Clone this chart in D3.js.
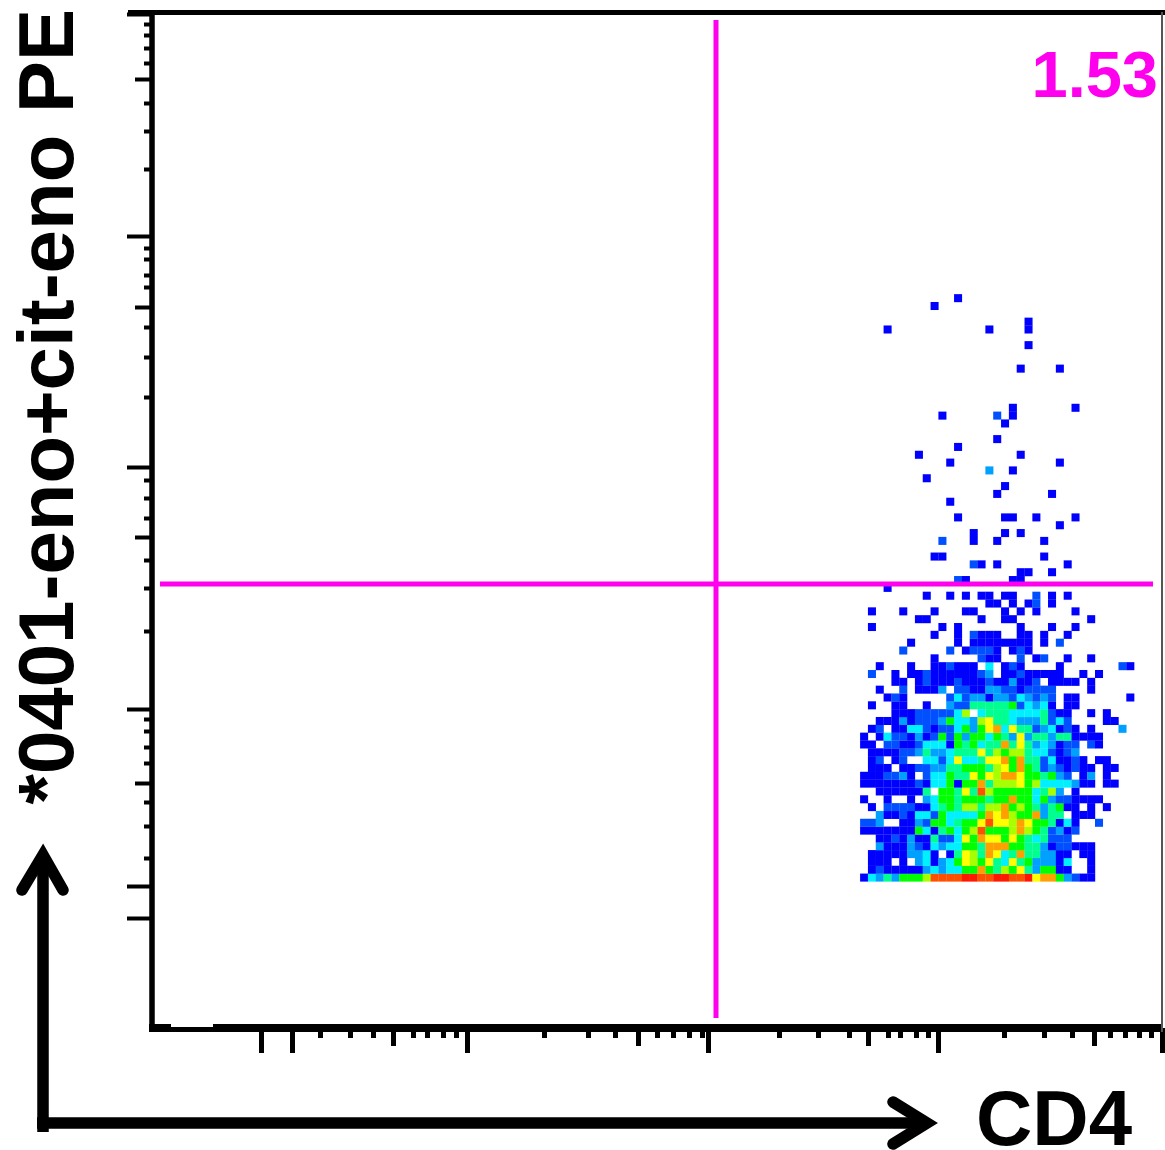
<!DOCTYPE html>
<html>
<head>
<meta charset="utf-8">
<script src="https://cdn.jsdelivr.net/npm/d3@7"></script>
<style>
  html, body { margin: 0; background: #fff; }
  svg { display: block; }
  text { font-family: "Liberation Sans", Arial, sans-serif; font-weight: bold; }
  .axis path { display: none; }
  .axis line { stroke: #000; }
</style>
</head>
<body>
<script>
// density rows, bottom row first. one char per bin: . empty, 1-9 a b = density level
var densityRows = [
  "14353 6667a aaabb aabba ab899 63211",
  ".1211 11134 34466 96576 85366 11..1",
  ".111. 1.341 34687 68548 56333 14..1",
  ".1111 13341 .1587 59845 95533 11.11",
  "..311 13214 34466 59996 65531 22111",
  "..112 13115 22486 98868 65452 22",
  "11111 11641 56467 a6667 97652 312",
  "223.. 11326 64566 8a887 98665 141.. 2",
  "..311 21442 64444 69897 66935 5.111",
  ".1.22 22114 56577 57796 76535 611.1 .1",
  "1..1. .1.34 66566 65669 66463 22111 1",
  "..111 1115. 66585 a7666 66457 3.1",
  "11111 11214 46166 95777 86744 44311 .11",
  "11122 31.24 46558 68799 86656 32.13 .1",
  ".111. 11223 35566 65786 96523 21211 .11",
  ".12.1 2..44 24844 58896 95524 1121. 11",
  ".1111 22353 34555 85767 75442 123",
  "11.22 11244 41656 45595 85343 122.2 1",
  "1.142 21312 62636 64653 83553 55111 1",
  ".12.1 14421 22463 68948 55234 121.1 ...3",
  "..111 31222 36443 78554 33352 42... .11",
  "....1 11222 2247. 45554 44452 11..1 .1",
  ".1..1 1..1. .3225 55556 24341 .11",
  "...12 1.... .2423 31332 43232 .11.. ....1",
  "..1.. 2.111 3.221 13322 12222 ....1",
  "....1 1.121 11211 12113 112.1 111.1",
  ".2..1 .1121 11111 23.11 21111 1..1. 1",
  "..1.. .1..1 12111 .4.12 1.... 1.... ...21",
  "..... ....1 ..... 211.. 2.12. .1..1",
  "..... 2.... .2.12 221.1 21",
  "..... .1... ..1.1 11111 11.1. 2",
  "..... ....1 ..1.2 111.. 11.1. .1",
  ".1... ..... 1.1.. ..... 1...1 ..1",
  "..... ..11. ..... 1..11 ..... ....1",
  ".1... 1...1 ...11 ...1. 1.1.. ..1",
  "..... ..... ..... .11.1 .12.1",
  "..... ...1. .1.1. 11.11 ..2.1 .1",
  "...1",
  "..... ..... ..21. ....1 1",
  "..... ..... ..... ..... 11..1",
  "..... ..... ....2 1.1.. ..... .1",
  "..... ....1 1.... ..... ...1",
  "",
  "..... ..... 2...1 ..1.. ...1",
  "..... ..... ....1 ...1. 1",
  "..... ..... ..... ..... ..... 1",
  "..... ..... ..1.. ...11 ..1.. ..1",
  "",
  "..... ..... .1",
  "..... ..... ..... ..1.. ....1",
  "..... ..... ..... ...1",
  "..... ...1",
  "..... ..... ..... .3..1",
  "..... ..... .1... ..... ..... 1",
  "..... ..1.. ..... ..... 1",
  "..... ..... ..1",
  "..... ..... ..... ..1",
  "",
  "..... ..... ..... ...1",
  "..... ..... 1.... ..2.1",
  "..... ..... ..... ....1 ..... ..1",
  "", "", "", "",
  "..... ..... ..... ..... 1.... 1",
  "", "",
  "..... ..... ..... ..... .1",
  "",
  "...1. ..... ..... .1... .1",
  "..... ..... ..... ..... .1",
  "",
  "..... ....1",
  "..... ..... ..1"
]

var levelColors = ["#0000ff", "#0050ff", "#00a0ff", "#00f0ff", "#00ff90", "#00ff00",
                   "#a8ff00", "#ffff00", "#ffa000", "#ff5000", "#ff1800"]

// axis positions in display channels
var xLong = [109, 140, 315, 556, 786, 1010]
var xMid = [241, 486, 716, 942]
var xMinor = [168, 198, 221, 261, 275, 291, 304, 392, 436, 463, 505, 521, 537, 550,
              627, 666, 697, 736, 748, 764, 776, 852, 892, 920, 958, 973, 987, 999]
var yLong = [1013, 791, 560, 318, 141, 109]
var yMid = [948, 720, 490, 244]
var yMinor = [1003, 992, 979, 964, 924, 896, 858, 779, 768, 752, 740, 700, 670, 630,
              547, 529, 509, 467, 439, 396, 308, 296, 280, 264, 225, 201, 169]

var xGate = 564, yGate = 443
var xLabel = "CD4"
var yLabel = "*0401-eno+cit-eno PE"
var gateLabel = "1.53"

var width = 1165, height = 1150
var binSize = 7.83, firstBinX = 708.1, firstBinY = 145.6
var magenta = "#ff00ee"

var x = d3.scaleLinear().domain([0, 1010]).range([152, 1162])
var y = d3.scaleLinear().domain([0, 1013]).range([1027, 14])
var level = d3.scaleOrdinal().domain("123456789ab".split("")).range(levelColors)

var svg = d3.select("body").append("svg")
    .attr("width", width)
    .attr("height", height)

// the source is a soft scan, blur everything a little
svg.append("defs").append("filter")
    .attr("id", "soft")
    .attr("filterUnits", "userSpaceOnUse")
    .attr("x", 0).attr("y", 0)
    .attr("width", width).attr("height", height)
    .attr("color-interpolation-filters", "sRGB")
    .append("feGaussianBlur")
    .attr("stdDeviation", 0.7)

var soft = svg.append("g").attr("filter", "url(#soft)")

// density cells
var cells = []
densityRows.forEach(function(row, r) {
    row.replace(/ /g, "").split("").forEach(function(c, i) {
        if (c != ".") cells.push({col: i, row: r, level: c})
    })
})

soft.append("g").selectAll("rect")
    .data(cells).enter()
    .append("rect")
    .attr("x", function(d) { return x(firstBinX + d.col * binSize) })
    .attr("y", function(d) { return y(firstBinY + (d.row + 1) * binSize) })
    .attr("width", x(binSize) - x(0) + 0.2)
    .attr("height", y(0) - y(binSize) + 0.2)
    .attr("fill", function(d) { return level(d.level) })

// tick tiers, each one its own axis
function xTier(values, size, w) {
    soft.append("g")
        .attr("class", "axis")
        .attr("transform", "translate(0,1028)")
        .call(d3.axisBottom(x).tickValues(values).tickSize(size).tickFormat(""))
        .selectAll("line").attr("stroke-width", w)
}
function yTier(values, size, w) {
    soft.append("g")
        .attr("class", "axis")
        .attr("transform", "translate(152,0)")
        .call(d3.axisLeft(y).tickValues(values).tickSize(size).tickFormat(""))
        .selectAll("line").attr("stroke-width", w)
}
xTier(xLong, 25, 5)
xTier(xMid, 18, 5)
xTier(xMinor, 10, 5)
yTier(yLong, 25, 4)
yTier(yMid, 17, 4)
yTier(yMinor, 8, 4)

// plot frame
function frameLine(x1, y1, x2, y2, w, color) {
    soft.append("line")
        .attr("x1", x1).attr("y1", y1).attr("x2", x2).attr("y2", y2)
        .attr("stroke", color || "#000").attr("stroke-width", w)
}
frameLine(128, 12.5, width, 12.5, 5)
frameLine(152, 12, 152, 1032, 5.5)
frameLine(149, 1028, 171, 1028, 8)
frameLine(171, 1029.5, 213, 1029.5, 5)
frameLine(213, 1028, 1163, 1028, 8)
frameLine(1162, 12, 1162, 1032, 2, "#555")

// quadrant gate
frameLine(x(xGate), 20, x(xGate), 1018, 5, magenta)
frameLine(160, y(yGate), 1153, y(yGate), 5, magenta)

soft.append("text")
    .attr("x", 1158)
    .attr("y", 97)
    .attr("text-anchor", "end")
    .attr("font-size", 65)
    .attr("fill", magenta)
    .text(gateLabel)

// hand drawn looking axis arrows
var arrows = d3.path()
arrows.moveTo(43, 1132)
arrows.lineTo(43, 856)
arrows.moveTo(37, 1123)
arrows.lineTo(928, 1123)
soft.append("path")
    .attr("d", arrows.toString())
    .attr("fill", "none")
    .attr("stroke", "#000")
    .attr("stroke-width", 11.5)

var heads = d3.path()
heads.moveTo(22, 890)
heads.lineTo(43, 855)
heads.lineTo(63, 890)
heads.moveTo(893, 1102)
heads.lineTo(927, 1123)
heads.lineTo(893, 1144)
soft.append("path")
    .attr("d", heads.toString())
    .attr("fill", "none")
    .attr("stroke", "#000")
    .attr("stroke-width", 11.5)
    .attr("stroke-linecap", "round")
    .attr("stroke-linejoin", "miter")

soft.append("text")
    .attr("x", 976)
    .attr("y", 1145)
    .attr("font-size", 78)
    .attr("fill", "#000")
    .text(xLabel)

soft.append("text")
    .attr("transform", "translate(73,9) rotate(-90)")
    .attr("text-anchor", "end")
    .attr("font-size", 78)
    .attr("fill", "#000")
    .text(yLabel)
</script>
</body>
</html>
